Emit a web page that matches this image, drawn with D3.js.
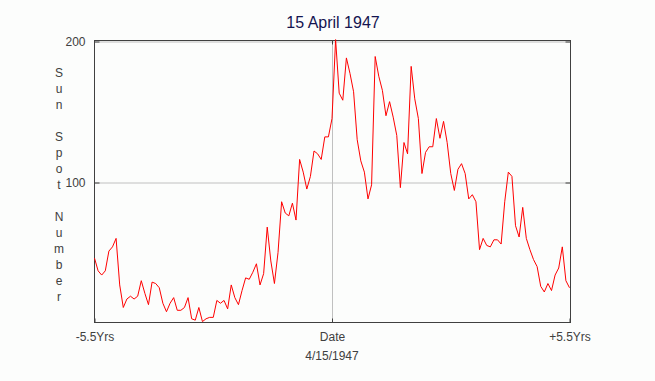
<!DOCTYPE html>
<html>
<head>
<meta charset="utf-8">
<script src="https://cdn.jsdelivr.net/npm/d3@7"></script>
<style>
body { margin: 0; background: #fcfdfc; }
svg { display: block; font-family: "Liberation Sans", Arial, sans-serif; }
</style>
</head>
<body>
<div id="chartdiv"></div>
<script>
// monthly sun spot numbers, Oct 1941 .. Oct 1952
var spots = [46, 37, 34, 37, 51, 54, 60, 27, 11, 17, 19, 17, 19, 30, 21, 13, 29, 28, 25, 14,
  8, 14, 18, 9, 9, 11, 18, 3, 2, 11, 1, 3, 4, 4, 16, 14, 16, 10, 27, 18,
  13, 23, 32, 31, 36, 42, 27, 35, 68, 44, 28, 50, 86, 78, 76, 85, 73, 116, 107, 95,
  104, 122, 120, 116, 132, 132, 145, 201, 163, 158, 188, 177, 164, 130, 115, 107, 88, 98, 189, 175,
  165, 147, 157, 146, 133, 96, 128, 120, 182, 159, 145, 106, 121, 125, 125, 145, 131, 143, 128, 106,
  94, 109, 113, 106, 88, 91, 86, 52, 60, 55, 54, 59, 59, 56, 86, 107, 104, 69, 61, 82,
  60, 52, 45, 40, 26, 22, 28, 23, 34, 39, 54, 30, 25];
var title = "15 April 1947";
var yLabel = "Sun Spot Number";
var yTicks = [100, 200];
var xTicks = [-5.5, 0, 5.5];
var xTickLabels = ["-5.5Yrs", "Date", "+5.5Yrs"];
var xSubLabel = "4/15/1947";

var data = spots.map(function(v, i) { return {x: -5.5 + i / 12, y: v}; });

var corewidth = 655, coreheight = 381;
var pLeft = 94, pRight = 570, pTop = 40, pBottom = 322;

var xScale = d3.scaleLinear().domain([-5.5, 5.5]).range([pLeft + 0.5, pRight - 0.5]);
var yScale = d3.scaleLinear().domain([0, 200]).range([323, 41]);

var svg = d3.select('#chartdiv')
  .append('svg')
  .attr('width', corewidth)
  .attr('height', coreheight)
  .style('background-color', '#fcfdfc');

function styleText(g) {
  g.selectAll('text').attr('fill', '#404040').attr('font-size', '12px')
    .attr('font-family', 'Liberation Sans, Arial, sans-serif');
}

// grid lines
svg.append('g')
  .attr('transform', 'translate(' + pLeft + ',0.5)')
  .call(d3.axisLeft(yScale).tickValues(yTicks).tickSize(-(pRight - pLeft)).tickFormat(''))
  .call(function(g) { g.select('.domain').remove(); })
  .selectAll('line').attr('stroke', '#c0c0c0');

svg.append('g')
  .attr('transform', 'translate(0,' + pBottom + ')')
  .call(d3.axisBottom(xScale).tickValues([0]).tickSize(-(pBottom - pTop)).tickFormat(''))
  .call(function(g) { g.select('.domain').remove(); })
  .selectAll('line').attr('stroke', '#c0c0c0');

// frame
svg.append('rect')
  .attr('x', pLeft + 0.5).attr('y', pTop + 0.5)
  .attr('width', pRight - pLeft).attr('height', pBottom - pTop)
  .attr('fill', 'none').attr('stroke', '#404040');

// inner ticks and labels
svg.append('g')
  .attr('transform', 'translate(' + (pLeft + 0.5) + ',0.5)')
  .call(d3.axisLeft(yScale).tickValues(yTicks).tickSize(-5).tickPadding(9))
  .call(function(g) { g.select('.domain').remove(); })
  .call(function(g) { g.selectAll('line').attr('stroke', '#404040'); })
  .call(styleText);

svg.append('g')
  .attr('transform', 'translate(' + (pRight + 0.5) + ',0.5)')
  .call(d3.axisRight(yScale).tickValues(yTicks).tickSize(-5).tickFormat(''))
  .call(function(g) { g.select('.domain').remove(); })
  .selectAll('line').attr('stroke', '#404040');

svg.append('g')
  .attr('transform', 'translate(0,' + (pBottom + 0.5) + ')')
  .call(d3.axisBottom(xScale).tickValues(xTicks).tickSize(-4).tickPadding(10)
    .tickFormat(function(d, i) { return xTickLabels[i]; }))
  .call(function(g) { g.select('.domain').remove(); })
  .call(function(g) { g.selectAll('line').attr('stroke', '#404040'); })
  .call(styleText);

svg.append('g')
  .attr('transform', 'translate(0,' + (pTop + 0.5) + ')')
  .call(d3.axisTop(xScale).tickValues([0]).tickSize(-4).tickFormat(''))
  .call(function(g) { g.select('.domain').remove(); })
  .selectAll('line').attr('stroke', '#404040');

svg.append('text')
  .attr('x', xScale(0))
  .attr('y', 360)
  .attr('text-anchor', 'middle')
  .attr('fill', '#404040')
  .attr('font-size', '12px')
  .text(xSubLabel);

// stacked y label
svg.append('g').selectAll('text')
  .data(yLabel.split(''))
  .enter().append('text')
  .attr('x', 59)
  .attr('y', function(d, i) { return 77 + i * 16; })
  .attr('text-anchor', 'middle')
  .attr('fill', '#404040')
  .attr('font-size', '12px')
  .text(function(d) { return d; });

svg.append('text')
  .attr('x', 333)
  .attr('y', 28)
  .attr('text-anchor', 'middle')
  .attr('fill', '#141450')
  .attr('font-size', '16px')
  .text(title);

var line = d3.line()
  .x(function(d) { return xScale(d.x); })
  .y(function(d) { return yScale(d.y); });

svg.append('path')
  .datum(data)
  .attr('d', line)
  .attr('fill', 'none')
  .attr('stroke', '#ff0000')
  .attr('stroke-width', 1);
</script>
</body>
</html>
